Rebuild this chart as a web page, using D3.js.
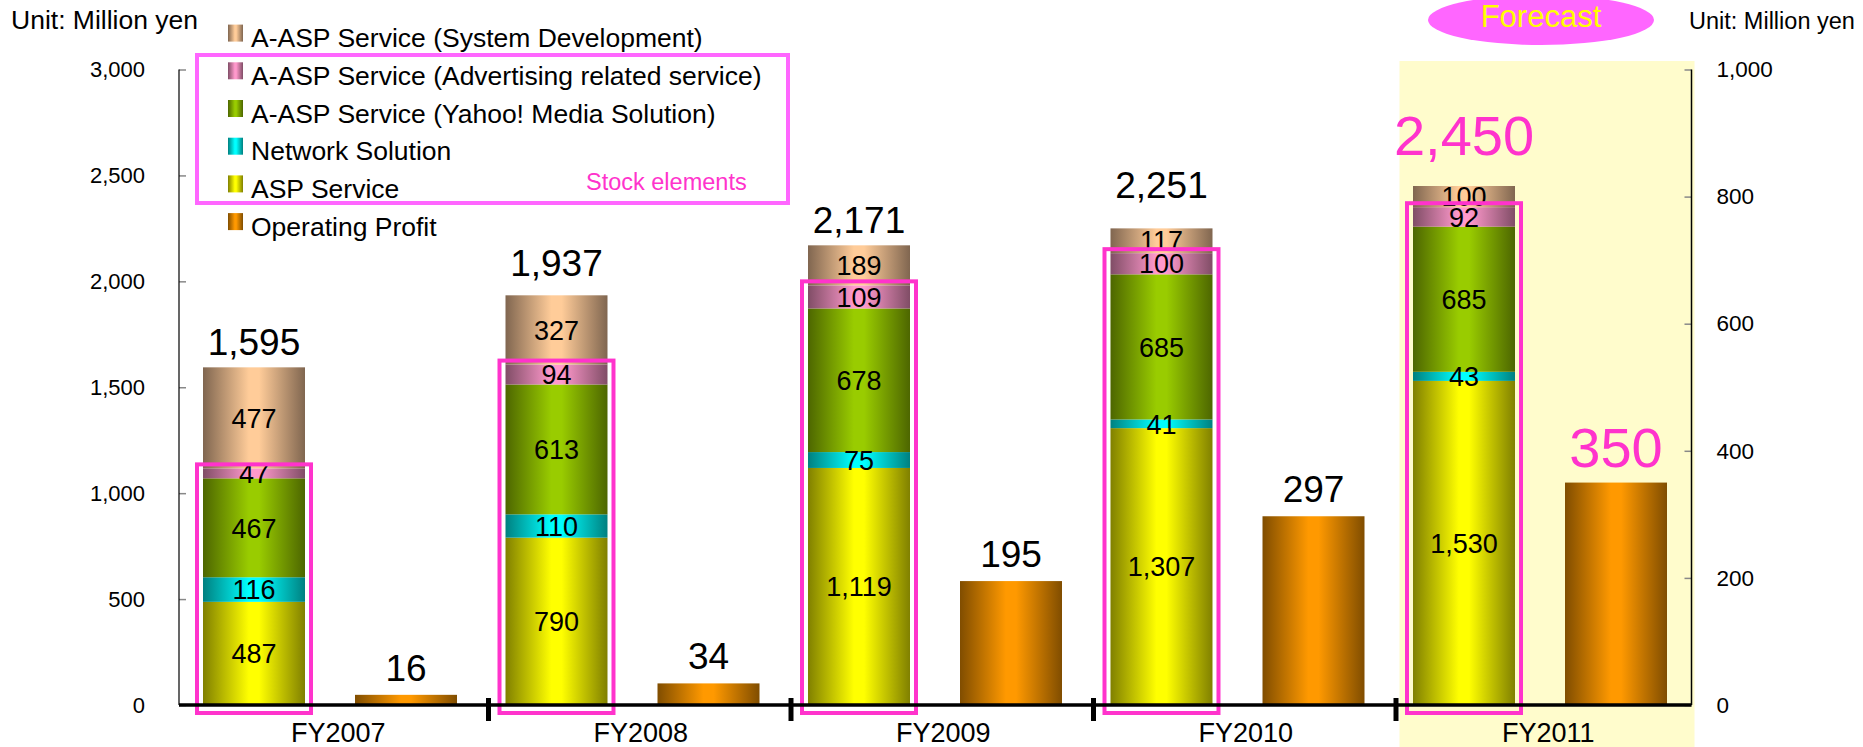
<!DOCTYPE html>
<html>
<head>
<meta charset="utf-8">
<script src="https://cdn.jsdelivr.net/npm/d3@7"></script>
<style>
  html, body { margin: 0; padding: 0; background: #fff; }
  svg { display: block; }
  text { font-family: "Liberation Sans", Arial, sans-serif; }
</style>
</head>
<body>
<svg id="chart" width="1863" height="747"></svg>
<script>
// ---- data (million yen) ----
const years = ["FY2007", "FY2008", "FY2009", "FY2010", "FY2011"];
const aspService       = [487, 790, 1119, 1307, 1530];
const networkSolution  = [116, 110, 75, 41, 43];
const yahooMedia       = [467, 613, 678, 685, 685];
const advertising      = [47, 94, 109, 100, 92];
const systemDev        = [477, 327, 189, 117, 100];
const salesTotals      = [1595, 1937, 2171, 2251, 2450];
const operatingProfit  = [16, 34, 195, 297, 350];
const leftTicks  = [0, 500, 1000, 1500, 2000, 2500, 3000];
const rightTicks = [0, 200, 400, 600, 800, 1000];
const forecastYear = "FY2011";

// stacking order, bottom to top
const seriesKeys = ["asp", "network", "yahoo", "advertising", "system"];
const seriesValues = { asp: aspService, network: networkSolution, yahoo: yahooMedia,
                       advertising: advertising, system: systemDev };
const stockKeys = ["asp", "network", "yahoo", "advertising"];

// legend rows, top to bottom
const legendItems = [
  { key: "system",      label: "A-ASP Service (System Development)" },
  { key: "advertising", label: "A-ASP Service (Advertising related service)" },
  { key: "yahoo",       label: "A-ASP Service (Yahoo! Media Solution)" },
  { key: "network",     label: "Network Solution" },
  { key: "asp",         label: "ASP Service" },
  { key: "profit",      label: "Operating Profit" }
];

// cylinder-style fills: bright centre, darker edges
const palette = {
  system:      ["#806650", "#FFCC99"],
  advertising: ["#804D66", "#FF99CC"],
  yahoo:       ["#4D6600", "#99CC00"],
  network:     ["#008080", "#00FFFF"],
  asp:         ["#808000", "#FFFF00"],
  profit:      ["#804D00", "#FF9900"]
};

const PINK = "#FF33CC";
const fmt = d3.format(",");

const svg = d3.select("#chart");
const plot = { left: 179, right: 1691.5, top: 69.5, base: 705 };

const x = d3.scaleBand().domain(years).range([plot.left, plot.right]);
const xInner = d3.scaleBand().domain(["sales", "profit"]).range([24, 278]).paddingInner(0.329);
const yLeft = d3.scaleLinear().domain([0, 3000]).range([plot.base, plot.top]);
const yRight = d3.scaleLinear().domain([0, 1000]).range([plot.base, plot.top]);

// gradients
const defs = svg.append("defs");
Object.entries(palette).forEach(([k, [edge, mid]]) => {
  const g = defs.append("linearGradient").attr("id", "grad-" + k)
    .attr("x1", "0%").attr("x2", "100%").attr("y1", "0%").attr("y2", "0%");
  g.append("stop").attr("offset", "0%").attr("stop-color", edge);
  g.append("stop").attr("offset", "45%").attr("stop-color", mid);
  g.append("stop").attr("offset", "55%").attr("stop-color", mid);
  g.append("stop").attr("offset", "100%").attr("stop-color", edge);
});

// forecast background
svg.append("rect")
  .attr("x", x(forecastYear) + 10.5).attr("y", 61)
  .attr("width", 295).attr("height", 747 - 61)
  .attr("fill", "#FFFCCC");

// forecast badge
const badgeX = x(forecastYear) + 152;
svg.append("ellipse").attr("cx", badgeX).attr("cy", 20).attr("rx", 113).attr("ry", 25)
  .attr("fill", "#FF66FF");
svg.append("text").attr("x", badgeX).attr("y", 27).attr("text-anchor", "middle")
  .attr("font-size", 31).attr("fill", "#FFFF00").text("Forecast");

// unit labels
svg.append("text").attr("x", 11).attr("y", 29).attr("font-size", 26.5).attr("fill", "#000")
  .text("Unit: Million yen");
svg.append("text").attr("x", 1689).attr("y", 29).attr("font-size", 23.5).attr("fill", "#000")
  .text("Unit: Million yen");

// stacked sales bars
const tableRows = years.map((yr, i) => {
  const row = { year: yr };
  seriesKeys.forEach(k => row[k] = seriesValues[k][i]);
  return row;
});
const stacked = d3.stack().keys(seriesKeys)(tableRows);

const barX = yr => x(yr) + xInner("sales");
const barW = xInner.bandwidth();

stacked.forEach(layer => {
  svg.append("g").selectAll("rect").data(layer).join("rect")
    .attr("x", d => barX(d.data.year))
    .attr("width", barW)
    .attr("y", d => yLeft(d[1]))
    .attr("height", d => yLeft(d[0]) - yLeft(d[1]))
    .attr("fill", "url(#grad-" + layer.key + ")");
});

// segment values
stacked.forEach(layer => {
  svg.append("g").selectAll("text").data(layer).join("text")
    .attr("x", d => barX(d.data.year) + barW / 2)
    .attr("y", d => (yLeft(d[0]) + yLeft(d[1])) / 2)
    .attr("dy", "0.36em")
    .attr("text-anchor", "middle")
    .attr("font-size", 27)
    .attr("fill", "#000")
    .text(d => fmt(d.data[layer.key]));
});

// outline around the stock elements
const stockTop = tableRows.map(r => d3.sum(stockKeys, k => r[k]));
svg.append("g").selectAll("rect").data(years).join("rect")
  .attr("x", yr => barX(yr) - 6)
  .attr("width", barW + 12)
  .attr("y", (yr, i) => yLeft(stockTop[i]) - 4)
  .attr("height", (yr, i) => plot.base + 8 - (yLeft(stockTop[i]) - 4))
  .attr("fill", "none")
  .attr("stroke", PINK)
  .attr("stroke-width", 4);

// totals above each stack
const totalLift = [12, 19, 12, 30, 31];
const stackTop = tableRows.map(r => d3.sum(seriesKeys, k => r[k]));
svg.append("g").selectAll("text").data(years).join("text")
  .attr("x", yr => barX(yr) + barW / 2)
  .attr("y", (yr, i) => yLeft(stackTop[i]) - totalLift[i])
  .attr("text-anchor", "middle")
  .attr("font-size", yr => yr === forecastYear ? 56 : 37)
  .attr("fill", yr => yr === forecastYear ? PINK : "#000")
  .text((yr, i) => fmt(salesTotals[i]));

// operating profit bars (right axis)
const profitX = yr => x(yr) + xInner("profit");
svg.append("g").selectAll("rect").data(years).join("rect")
  .attr("x", profitX)
  .attr("width", barW)
  .attr("y", (yr, i) => yRight(operatingProfit[i]))
  .attr("height", (yr, i) => plot.base - yRight(operatingProfit[i]))
  .attr("fill", "url(#grad-profit)");

svg.append("g").selectAll("text").data(years).join("text")
  .attr("x", yr => profitX(yr) + barW / 2)
  .attr("y", (yr, i) => yRight(operatingProfit[i]) - (yr === forecastYear ? 16 : 14))
  .attr("text-anchor", "middle")
  .attr("font-size", yr => yr === forecastYear ? 56 : 37)
  .attr("fill", yr => yr === forecastYear ? PINK : "#000")
  .text((yr, i) => fmt(operatingProfit[i]));

// left axis
const leftAxis = svg.append("g").attr("transform", `translate(${plot.left},0)`)
  .call(d3.axisLeft(yLeft).tickValues(leftTicks).tickFormat(fmt).tickSize(-7).tickPadding(34));
leftAxis.select(".domain").remove();
leftAxis.selectAll(".tick line").attr("stroke", "#888").attr("stroke-width", 1.5);
leftAxis.selectAll(".tick text").attr("font-size", 22).attr("fill", "#000")
  .attr("font-family", "'Liberation Sans', Arial, sans-serif");
svg.append("line").attr("x1", plot.left).attr("x2", plot.left)
  .attr("y1", plot.top).attr("y2", plot.base).attr("stroke", "#000").attr("stroke-width", 1.2);

// right axis
const rightAxis = svg.append("g").attr("transform", `translate(${plot.right},0)`)
  .call(d3.axisRight(yRight).tickValues(rightTicks).tickFormat(fmt).tickSize(-7).tickPadding(25));
rightAxis.select(".domain").remove();
rightAxis.selectAll(".tick line").attr("stroke", "#888").attr("stroke-width", 1.5);
rightAxis.selectAll(".tick text").attr("font-size", 22.5).attr("fill", "#000")
  .attr("font-family", "'Liberation Sans', Arial, sans-serif");
svg.append("line").attr("x1", plot.right).attr("x2", plot.right)
  .attr("y1", plot.top).attr("y2", plot.base).attr("stroke", "#000").attr("stroke-width", 1.5);

// category axis
svg.append("line").attr("x1", plot.left).attr("x2", plot.right)
  .attr("y1", plot.base).attr("y2", plot.base).attr("stroke", "#000").attr("stroke-width", 3.5);
svg.append("g").selectAll("line").data(years.slice(1)).join("line")
  .attr("x1", yr => x(yr) + 7).attr("x2", yr => x(yr) + 7)
  .attr("y1", plot.base - 7).attr("y2", plot.base + 16)
  .attr("stroke", "#000").attr("stroke-width", 5);
svg.append("g").selectAll("text").data(years).join("text")
  .attr("x", yr => x(yr) + x.bandwidth() / 2 + 8)
  .attr("y", 742)
  .attr("text-anchor", "middle")
  .attr("font-size", 27)
  .attr("fill", "#000")
  .text(yr => yr);

// legend
svg.append("rect").attr("x", 197).attr("y", 55).attr("width", 591).attr("height", 148)
  .attr("fill", "none").attr("stroke", "#FF66FF").attr("stroke-width", 4);
const legend = svg.append("g").selectAll("g").data(legendItems).join("g")
  .attr("transform", (d, i) => `translate(228,${24.6 + 37.7 * i})`);
legend.append("rect").attr("width", 15).attr("height", 17)
  .attr("fill", d => "url(#grad-" + d.key + ")");
legend.append("text").attr("x", 23).attr("y", 22.7)
  .attr("font-size", 26.5).attr("fill", "#000").text(d => d.label);
svg.append("text").attr("x", 586).attr("y", 190).attr("font-size", 23.5)
  .attr("fill", PINK).text("Stock elements");
</script>
</body>
</html>
